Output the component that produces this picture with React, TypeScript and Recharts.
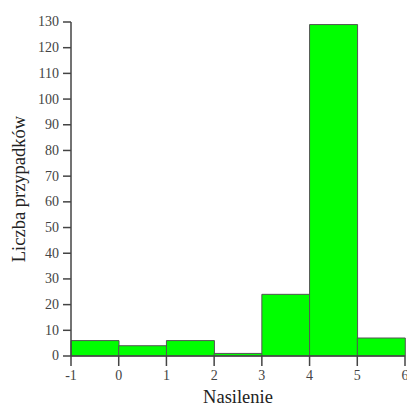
import React from 'react';
import { BarChart, Bar, XAxis, YAxis } from 'recharts';

// histogram bins: left edge of each bin, width 1
const binStarts = [-1, 0, 1, 2, 3, 4, 5];
const counts = [6, 4, 6, 1, 24, 129, 7];
const xTicks = [-1, 0, 1, 2, 3, 4, 5, 6];
const yTicks = [0, 10, 20, 30, 40, 50, 60, 70, 80, 90, 100, 110, 120, 130];

const data = binStarts.map((s, i) => ({ bin: String(s), x: s + 0.5, count: counts[i] }));

const FONT = "'Liberation Serif', 'DejaVu Serif', serif";
const AXIS = '#444';

const SerifTick = (props: any) => {
  const { x, y, payload, textAnchor, verticalAnchor } = props;
  const dy = verticalAnchor === 'start' ? '0.71em' : '0.32em';
  return (
    <text x={x} y={y} dy={dy} textAnchor={textAnchor} fill="#444" style={{ fontFamily: FONT, fontSize: 14 }}>
      {payload.value}
    </text>
  );
};

const App: React.FC = () => {
  const width = 407;
  const height = 406;
  const margin = { top: 22, right: 2, bottom: 0, left: 8 };

  return (
    <div style={{ position: 'absolute', left: 0, top: 0, width, height, fontFamily: FONT, overflow: 'hidden' }}>
      <BarChart
        width={width}
        height={height}
        data={data}
        margin={margin}
        barGap={0}
        barCategoryGap={0}
        style={{ fontFamily: FONT }}
      >
        <XAxis xAxisId="bins" dataKey="bin" type="category" hide height={0} />
        <XAxis
          xAxisId="num"
          type="number"
          dataKey="x"
          domain={[-1, 6]}
          ticks={xTicks}
          interval={0}
          allowDataOverflow
          height={50}
          tickSize={10}
          tickMargin={4}
          stroke={AXIS}
          strokeWidth={1.5}
          tick={<SerifTick />}
          label={{ value: 'Nasilenie', position: 'insideBottom', offset: 3, fill: '#222', fontSize: 18.5, style: { fontFamily: FONT } }}
        />
        <YAxis
          type="number"
          domain={[0, 130]}
          ticks={yTicks}
          interval={0}
          width={63}
          tickSize={8}
          tickMargin={4}
          stroke={AXIS}
          strokeWidth={1.5}
          tick={<SerifTick />}
          label={{ value: 'Liczba przypadków', angle: -90, position: 'insideLeft', offset: 10, fill: '#222', fontSize: 18.5, style: { textAnchor: 'middle', fontFamily: FONT } }}
        />
        <Bar
          xAxisId="bins"
          dataKey="count"
          fill="#00ff00"
          stroke="#555"
          strokeWidth={1}
          isAnimationActive={false}
        />
      </BarChart>
    </div>
  );
};

export default App;
